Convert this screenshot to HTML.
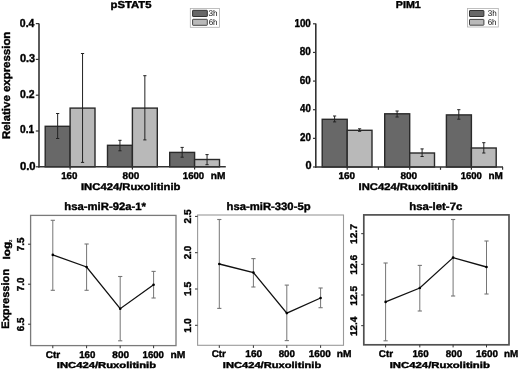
<!DOCTYPE html>
<html><head><meta charset="utf-8"><title>figure</title><style>
html,body{margin:0;padding:0;background:#fff;}
svg{will-change:transform;display:block;font-family:"Liberation Sans", sans-serif;text-rendering:geometricPrecision;}
</style></head><body>
<svg width="520" height="370" viewBox="0 0 520 370">
<rect width="520" height="370" fill="#fff"/>
<rect x="45.20" y="126.30" width="24.90" height="40.50" fill="#686868" stroke="#2a2a2a" stroke-width="1.4" />
<rect x="70.10" y="108.10" width="24.90" height="58.70" fill="#b9b9b9" stroke="#2a2a2a" stroke-width="1.4" />
<line x1="57.65" y1="113.50" x2="57.65" y2="138.50" stroke="#222" stroke-width="1.0" />
<line x1="56.05" y1="113.50" x2="59.25" y2="113.50" stroke="#222" stroke-width="1.0" />
<line x1="56.05" y1="138.50" x2="59.25" y2="138.50" stroke="#222" stroke-width="1.0" />
<line x1="82.55" y1="53.50" x2="82.55" y2="162.40" stroke="#222" stroke-width="1.0" />
<line x1="80.95" y1="53.50" x2="84.15" y2="53.50" stroke="#222" stroke-width="1.0" />
<line x1="80.95" y1="162.40" x2="84.15" y2="162.40" stroke="#222" stroke-width="1.0" />
<rect x="107.50" y="145.30" width="24.90" height="21.50" fill="#686868" stroke="#2a2a2a" stroke-width="1.4" />
<rect x="132.40" y="108.10" width="24.90" height="58.70" fill="#b9b9b9" stroke="#2a2a2a" stroke-width="1.4" />
<line x1="119.95" y1="140.30" x2="119.95" y2="150.80" stroke="#222" stroke-width="1.0" />
<line x1="118.35" y1="140.30" x2="121.55" y2="140.30" stroke="#222" stroke-width="1.0" />
<line x1="118.35" y1="150.80" x2="121.55" y2="150.80" stroke="#222" stroke-width="1.0" />
<line x1="144.85" y1="75.70" x2="144.85" y2="139.90" stroke="#222" stroke-width="1.0" />
<line x1="143.25" y1="75.70" x2="146.45" y2="75.70" stroke="#222" stroke-width="1.0" />
<line x1="143.25" y1="139.90" x2="146.45" y2="139.90" stroke="#222" stroke-width="1.0" />
<rect x="169.70" y="152.40" width="24.90" height="14.40" fill="#686868" stroke="#2a2a2a" stroke-width="1.4" />
<rect x="194.60" y="159.50" width="24.90" height="7.30" fill="#b9b9b9" stroke="#2a2a2a" stroke-width="1.4" />
<line x1="182.15" y1="147.40" x2="182.15" y2="157.20" stroke="#222" stroke-width="1.0" />
<line x1="180.55" y1="147.40" x2="183.75" y2="147.40" stroke="#222" stroke-width="1.0" />
<line x1="180.55" y1="157.20" x2="183.75" y2="157.20" stroke="#222" stroke-width="1.0" />
<line x1="207.05" y1="154.60" x2="207.05" y2="164.70" stroke="#222" stroke-width="1.0" />
<line x1="205.45" y1="154.60" x2="208.65" y2="154.60" stroke="#222" stroke-width="1.0" />
<line x1="205.45" y1="164.70" x2="208.65" y2="164.70" stroke="#222" stroke-width="1.0" />
<line x1="39.00" y1="23.40" x2="39.00" y2="167.50" stroke="#333" stroke-width="1.6" />
<line x1="38.20" y1="166.80" x2="225.80" y2="166.80" stroke="#333" stroke-width="1.6" />
<line x1="35.80" y1="166.80" x2="39.00" y2="166.80" stroke="#333" stroke-width="1.2" />
<line x1="35.80" y1="131.00" x2="39.00" y2="131.00" stroke="#333" stroke-width="1.2" />
<line x1="35.80" y1="95.20" x2="39.00" y2="95.20" stroke="#333" stroke-width="1.2" />
<line x1="35.80" y1="59.40" x2="39.00" y2="59.40" stroke="#333" stroke-width="1.2" />
<line x1="35.80" y1="23.60" x2="39.00" y2="23.60" stroke="#333" stroke-width="1.2" />
<line x1="70.10" y1="166.80" x2="70.10" y2="169.60" stroke="#333" stroke-width="1.2" />
<line x1="132.40" y1="166.80" x2="132.40" y2="169.60" stroke="#333" stroke-width="1.2" />
<line x1="194.60" y1="166.80" x2="194.60" y2="169.60" stroke="#333" stroke-width="1.2" />
<rect x="190.30" y="8.50" width="29.20" height="18.80" fill="#fff" stroke="#b0b0b0" stroke-width="0.8" />
<rect x="192.60" y="10.30" width="14.70" height="6.20" fill="#686868" stroke="#333" stroke-width="1.0" rx="0.5"/>
<rect x="192.60" y="19.30" width="14.70" height="6.00" fill="#b9b9b9" stroke="#444" stroke-width="1.0" rx="0.5"/>
<rect x="322.20" y="119.30" width="25.00" height="47.70" fill="#686868" stroke="#2a2a2a" stroke-width="1.4" />
<rect x="347.20" y="130.30" width="24.80" height="36.70" fill="#b9b9b9" stroke="#2a2a2a" stroke-width="1.4" />
<line x1="334.60" y1="116.00" x2="334.60" y2="121.90" stroke="#222" stroke-width="1.0" />
<line x1="333.00" y1="116.00" x2="336.20" y2="116.00" stroke="#222" stroke-width="1.0" />
<line x1="333.00" y1="121.90" x2="336.20" y2="121.90" stroke="#222" stroke-width="1.0" />
<line x1="359.60" y1="128.80" x2="359.60" y2="131.30" stroke="#222" stroke-width="1.0" />
<line x1="358.00" y1="128.80" x2="361.20" y2="128.80" stroke="#222" stroke-width="1.0" />
<line x1="358.00" y1="131.30" x2="361.20" y2="131.30" stroke="#222" stroke-width="1.0" />
<rect x="384.70" y="113.80" width="25.00" height="53.20" fill="#686868" stroke="#2a2a2a" stroke-width="1.4" />
<rect x="409.70" y="153.00" width="24.80" height="14.00" fill="#b9b9b9" stroke="#2a2a2a" stroke-width="1.4" />
<line x1="397.10" y1="111.00" x2="397.10" y2="117.00" stroke="#222" stroke-width="1.0" />
<line x1="395.50" y1="111.00" x2="398.70" y2="111.00" stroke="#222" stroke-width="1.0" />
<line x1="395.50" y1="117.00" x2="398.70" y2="117.00" stroke="#222" stroke-width="1.0" />
<line x1="422.10" y1="148.90" x2="422.10" y2="156.50" stroke="#222" stroke-width="1.0" />
<line x1="420.50" y1="148.90" x2="423.70" y2="148.90" stroke="#222" stroke-width="1.0" />
<line x1="420.50" y1="156.50" x2="423.70" y2="156.50" stroke="#222" stroke-width="1.0" />
<rect x="446.40" y="114.90" width="25.00" height="52.10" fill="#686868" stroke="#2a2a2a" stroke-width="1.4" />
<rect x="471.40" y="148.00" width="24.80" height="19.00" fill="#b9b9b9" stroke="#2a2a2a" stroke-width="1.4" />
<line x1="458.80" y1="109.70" x2="458.80" y2="119.20" stroke="#222" stroke-width="1.0" />
<line x1="457.20" y1="109.70" x2="460.40" y2="109.70" stroke="#222" stroke-width="1.0" />
<line x1="457.20" y1="119.20" x2="460.40" y2="119.20" stroke="#222" stroke-width="1.0" />
<line x1="483.80" y1="142.70" x2="483.80" y2="153.00" stroke="#222" stroke-width="1.0" />
<line x1="482.20" y1="142.70" x2="485.40" y2="142.70" stroke="#222" stroke-width="1.0" />
<line x1="482.20" y1="153.00" x2="485.40" y2="153.00" stroke="#222" stroke-width="1.0" />
<line x1="315.80" y1="23.40" x2="315.80" y2="167.70" stroke="#333" stroke-width="1.6" />
<line x1="315.00" y1="167.00" x2="503.00" y2="167.00" stroke="#333" stroke-width="1.6" />
<line x1="313.00" y1="167.00" x2="315.80" y2="167.00" stroke="#333" stroke-width="1.2" />
<line x1="313.00" y1="138.36" x2="315.80" y2="138.36" stroke="#333" stroke-width="1.2" />
<line x1="313.00" y1="109.72" x2="315.80" y2="109.72" stroke="#333" stroke-width="1.2" />
<line x1="313.00" y1="81.08" x2="315.80" y2="81.08" stroke="#333" stroke-width="1.2" />
<line x1="313.00" y1="52.44" x2="315.80" y2="52.44" stroke="#333" stroke-width="1.2" />
<line x1="313.00" y1="23.80" x2="315.80" y2="23.80" stroke="#333" stroke-width="1.2" />
<line x1="347.20" y1="167.00" x2="347.20" y2="169.80" stroke="#333" stroke-width="1.2" />
<line x1="378.40" y1="167.00" x2="378.40" y2="169.80" stroke="#333" stroke-width="1.2" />
<line x1="409.70" y1="167.00" x2="409.70" y2="169.80" stroke="#333" stroke-width="1.2" />
<line x1="440.50" y1="167.00" x2="440.50" y2="169.80" stroke="#333" stroke-width="1.2" />
<line x1="471.40" y1="167.00" x2="471.40" y2="169.80" stroke="#333" stroke-width="1.2" />
<line x1="502.60" y1="167.00" x2="502.60" y2="169.80" stroke="#333" stroke-width="1.2" />
<rect x="467.50" y="8.50" width="30.80" height="18.50" fill="#fff" stroke="#b0b0b0" stroke-width="0.8" />
<rect x="469.50" y="10.50" width="14.40" height="6.00" fill="#686868" stroke="#333" stroke-width="1.0" rx="0.5"/>
<rect x="469.50" y="19.40" width="14.40" height="5.80" fill="#b9b9b9" stroke="#444" stroke-width="1.0" rx="0.5"/>
<rect x="30.60" y="215.40" width="145.40" height="130.20" fill="none" stroke="#7a7a7a" stroke-width="1.3" />
<line x1="28.00" y1="324.20" x2="30.60" y2="324.20" stroke="#333" stroke-width="1.0" />
<line x1="28.00" y1="284.20" x2="30.60" y2="284.20" stroke="#333" stroke-width="1.0" />
<line x1="28.00" y1="244.20" x2="30.60" y2="244.20" stroke="#333" stroke-width="1.0" />
<line x1="52.80" y1="345.60" x2="52.80" y2="348.20" stroke="#333" stroke-width="1.0" />
<line x1="86.60" y1="345.60" x2="86.60" y2="348.20" stroke="#333" stroke-width="1.0" />
<line x1="120.20" y1="345.60" x2="120.20" y2="348.20" stroke="#333" stroke-width="1.0" />
<line x1="153.60" y1="345.60" x2="153.60" y2="348.20" stroke="#333" stroke-width="1.0" />
<line x1="52.80" y1="220.30" x2="52.80" y2="290.30" stroke="#767676" stroke-width="1.0" />
<line x1="50.70" y1="220.30" x2="54.90" y2="220.30" stroke="#767676" stroke-width="1.1" />
<line x1="50.70" y1="290.30" x2="54.90" y2="290.30" stroke="#767676" stroke-width="1.1" />
<line x1="86.60" y1="244.00" x2="86.60" y2="290.30" stroke="#767676" stroke-width="1.0" />
<line x1="84.50" y1="244.00" x2="88.70" y2="244.00" stroke="#767676" stroke-width="1.1" />
<line x1="84.50" y1="290.30" x2="88.70" y2="290.30" stroke="#767676" stroke-width="1.1" />
<line x1="120.20" y1="276.50" x2="120.20" y2="340.80" stroke="#767676" stroke-width="1.0" />
<line x1="118.10" y1="276.50" x2="122.30" y2="276.50" stroke="#767676" stroke-width="1.1" />
<line x1="118.10" y1="340.80" x2="122.30" y2="340.80" stroke="#767676" stroke-width="1.1" />
<line x1="153.60" y1="271.40" x2="153.60" y2="298.00" stroke="#767676" stroke-width="1.0" />
<line x1="151.50" y1="271.40" x2="155.70" y2="271.40" stroke="#767676" stroke-width="1.1" />
<line x1="151.50" y1="298.00" x2="155.70" y2="298.00" stroke="#767676" stroke-width="1.1" />
<path d="M52.80,254.90 L86.60,267.00 L120.20,308.70 L153.60,284.80" fill="none" stroke="#111" stroke-width="1.3"/>
<circle cx="52.80" cy="254.90" r="1.3" fill="#000"/>
<circle cx="86.60" cy="267.00" r="1.3" fill="#000"/>
<circle cx="120.20" cy="308.70" r="1.3" fill="#000"/>
<circle cx="153.60" cy="284.80" r="1.3" fill="#000"/>
<rect x="197.60" y="215.00" width="145.90" height="130.30" fill="none" stroke="#9a9a9a" stroke-width="1.1" />
<line x1="195.00" y1="325.30" x2="197.60" y2="325.30" stroke="#333" stroke-width="1.0" />
<line x1="195.00" y1="289.00" x2="197.60" y2="289.00" stroke="#333" stroke-width="1.0" />
<line x1="195.00" y1="252.70" x2="197.60" y2="252.70" stroke="#333" stroke-width="1.0" />
<line x1="195.00" y1="216.40" x2="197.60" y2="216.40" stroke="#333" stroke-width="1.0" />
<line x1="219.30" y1="345.30" x2="219.30" y2="347.90" stroke="#333" stroke-width="1.0" />
<line x1="253.40" y1="345.30" x2="253.40" y2="347.90" stroke="#333" stroke-width="1.0" />
<line x1="286.80" y1="345.30" x2="286.80" y2="347.90" stroke="#333" stroke-width="1.0" />
<line x1="320.60" y1="345.30" x2="320.60" y2="347.90" stroke="#333" stroke-width="1.0" />
<line x1="219.30" y1="219.50" x2="219.30" y2="308.40" stroke="#767676" stroke-width="1.0" />
<line x1="217.20" y1="219.50" x2="221.40" y2="219.50" stroke="#767676" stroke-width="1.1" />
<line x1="217.20" y1="308.40" x2="221.40" y2="308.40" stroke="#767676" stroke-width="1.1" />
<line x1="253.40" y1="258.60" x2="253.40" y2="287.00" stroke="#767676" stroke-width="1.0" />
<line x1="251.30" y1="258.60" x2="255.50" y2="258.60" stroke="#767676" stroke-width="1.1" />
<line x1="251.30" y1="287.00" x2="255.50" y2="287.00" stroke="#767676" stroke-width="1.1" />
<line x1="286.80" y1="285.10" x2="286.80" y2="340.60" stroke="#767676" stroke-width="1.0" />
<line x1="284.70" y1="285.10" x2="288.90" y2="285.10" stroke="#767676" stroke-width="1.1" />
<line x1="284.70" y1="340.60" x2="288.90" y2="340.60" stroke="#767676" stroke-width="1.1" />
<line x1="320.60" y1="288.00" x2="320.60" y2="307.70" stroke="#767676" stroke-width="1.0" />
<line x1="318.50" y1="288.00" x2="322.70" y2="288.00" stroke="#767676" stroke-width="1.1" />
<line x1="318.50" y1="307.70" x2="322.70" y2="307.70" stroke="#767676" stroke-width="1.1" />
<path d="M219.30,264.00 L253.40,272.60 L286.80,313.10 L320.60,298.00" fill="none" stroke="#111" stroke-width="1.3"/>
<circle cx="219.30" cy="264.00" r="1.3" fill="#000"/>
<circle cx="253.40" cy="272.60" r="1.3" fill="#000"/>
<circle cx="286.80" cy="313.10" r="1.3" fill="#000"/>
<circle cx="320.60" cy="298.00" r="1.3" fill="#000"/>
<rect x="363.80" y="214.90" width="145.20" height="129.90" fill="none" stroke="#505050" stroke-width="1.7" />
<line x1="361.20" y1="325.67" x2="363.80" y2="325.67" stroke="#333" stroke-width="1.0" />
<line x1="361.20" y1="295.00" x2="363.80" y2="295.00" stroke="#333" stroke-width="1.0" />
<line x1="361.20" y1="264.33" x2="363.80" y2="264.33" stroke="#333" stroke-width="1.0" />
<line x1="361.20" y1="233.66" x2="363.80" y2="233.66" stroke="#333" stroke-width="1.0" />
<line x1="385.60" y1="344.80" x2="385.60" y2="347.40" stroke="#333" stroke-width="1.0" />
<line x1="419.80" y1="344.80" x2="419.80" y2="347.40" stroke="#333" stroke-width="1.0" />
<line x1="453.10" y1="344.80" x2="453.10" y2="347.40" stroke="#333" stroke-width="1.0" />
<line x1="486.50" y1="344.80" x2="486.50" y2="347.40" stroke="#333" stroke-width="1.0" />
<line x1="385.60" y1="263.00" x2="385.60" y2="340.80" stroke="#767676" stroke-width="1.0" />
<line x1="383.50" y1="263.00" x2="387.70" y2="263.00" stroke="#767676" stroke-width="1.1" />
<line x1="383.50" y1="340.80" x2="387.70" y2="340.80" stroke="#767676" stroke-width="1.1" />
<line x1="419.80" y1="265.40" x2="419.80" y2="311.00" stroke="#767676" stroke-width="1.0" />
<line x1="417.70" y1="265.40" x2="421.90" y2="265.40" stroke="#767676" stroke-width="1.1" />
<line x1="417.70" y1="311.00" x2="421.90" y2="311.00" stroke="#767676" stroke-width="1.1" />
<line x1="453.10" y1="219.50" x2="453.10" y2="296.00" stroke="#767676" stroke-width="1.0" />
<line x1="451.00" y1="219.50" x2="455.20" y2="219.50" stroke="#767676" stroke-width="1.1" />
<line x1="451.00" y1="296.00" x2="455.20" y2="296.00" stroke="#767676" stroke-width="1.1" />
<line x1="486.50" y1="241.00" x2="486.50" y2="294.00" stroke="#767676" stroke-width="1.0" />
<line x1="484.40" y1="241.00" x2="488.60" y2="241.00" stroke="#767676" stroke-width="1.1" />
<line x1="484.40" y1="294.00" x2="488.60" y2="294.00" stroke="#767676" stroke-width="1.1" />
<path d="M385.60,301.90 L419.80,288.00 L453.10,257.60 L486.50,267.00" fill="none" stroke="#111" stroke-width="1.3"/>
<circle cx="385.60" cy="301.90" r="1.3" fill="#000"/>
<circle cx="419.80" cy="288.00" r="1.3" fill="#000"/>
<circle cx="453.10" cy="257.60" r="1.3" fill="#000"/>
<circle cx="486.50" cy="267.00" r="1.3" fill="#000"/>
<g font-weight="bold" fill="#000" stroke="#000" stroke-width="0.4">
<text x="110.51" y="8.00" font-size="10.04" textLength="40.95" lengthAdjust="spacingAndGlyphs">pSTAT5</text>
<text x="19.87" y="27.00" font-size="11.62" textLength="14.56" lengthAdjust="spacingAndGlyphs">0.4</text>
<text x="19.93" y="62.00" font-size="11.62" textLength="15.26" lengthAdjust="spacingAndGlyphs">0.3</text>
<text x="20.08" y="98.00" font-size="11.62" textLength="14.54" lengthAdjust="spacingAndGlyphs">0.2</text>
<text x="20.12" y="133.00" font-size="11.62" textLength="14.19" lengthAdjust="spacingAndGlyphs">0.1</text>
<text x="19.92" y="170.00" font-size="11.62" textLength="15.62" lengthAdjust="spacingAndGlyphs">0.0</text>
<text x="61.16" y="179.00" font-size="9.85" textLength="16.30" lengthAdjust="spacingAndGlyphs">160</text>
<text x="122.61" y="179.00" font-size="9.85" textLength="16.62" lengthAdjust="spacingAndGlyphs">800</text>
<text x="182.87" y="179.00" font-size="9.85" textLength="21.30" lengthAdjust="spacingAndGlyphs">1600</text>
<text x="210.89" y="179.00" font-size="9.85" textLength="14.59" lengthAdjust="spacingAndGlyphs">nM</text>
<text x="80.99" y="190.00" font-size="9.69" textLength="99.51" lengthAdjust="spacingAndGlyphs">INC424/Ruxolitinib</text>
<text x="10.06" y="139.11" font-size="11.15" textLength="107.49" lengthAdjust="spacingAndGlyphs" transform="rotate(-90 10.06 139.11)">Relative expression</text>
<text x="208.54" y="16.00" font-size="8.32" font-weight="normal" stroke="none" fill="#111" textLength="9.11" lengthAdjust="spacingAndGlyphs">3h</text>
<text x="208.63" y="25.00" font-size="8.32" font-weight="normal" stroke="none" fill="#111" textLength="8.90" lengthAdjust="spacingAndGlyphs">6h</text>
<text x="395.82" y="8.00" font-size="10.04" textLength="25.00" lengthAdjust="spacingAndGlyphs">PIM1</text>
<text x="294.41" y="27.00" font-size="11.53" textLength="16.43" lengthAdjust="spacingAndGlyphs">100</text>
<text x="299.79" y="55.00" font-size="11.53" textLength="11.12" lengthAdjust="spacingAndGlyphs">80</text>
<text x="299.87" y="84.00" font-size="11.53" textLength="10.98" lengthAdjust="spacingAndGlyphs">60</text>
<text x="300.02" y="112.00" font-size="11.53" textLength="10.75" lengthAdjust="spacingAndGlyphs">40</text>
<text x="299.97" y="141.00" font-size="11.53" textLength="10.94" lengthAdjust="spacingAndGlyphs">20</text>
<text x="305.45" y="169.00" font-size="11.53" textLength="6.07" lengthAdjust="spacingAndGlyphs">0</text>
<text x="338.50" y="179.00" font-size="9.85" textLength="16.57" lengthAdjust="spacingAndGlyphs">160</text>
<text x="400.41" y="179.00" font-size="9.85" textLength="16.80" lengthAdjust="spacingAndGlyphs">800</text>
<text x="460.69" y="179.00" font-size="9.85" textLength="21.23" lengthAdjust="spacingAndGlyphs">1600</text>
<text x="488.47" y="179.00" font-size="9.85" textLength="14.38" lengthAdjust="spacingAndGlyphs">nM</text>
<text x="358.60" y="190.00" font-size="9.69" textLength="99.19" lengthAdjust="spacingAndGlyphs">INC424/Ruxolitinib</text>
<text x="487.66" y="16.00" font-size="8.32" font-weight="normal" stroke="none" fill="#111" textLength="8.98" lengthAdjust="spacingAndGlyphs">3h</text>
<text x="487.63" y="25.00" font-size="8.32" font-weight="normal" stroke="none" fill="#111" textLength="8.91" lengthAdjust="spacingAndGlyphs">6h</text>
<text x="64.30" y="210.00" font-size="10.73" textLength="81.72" lengthAdjust="spacingAndGlyphs">hsa-miR-92a-1*</text>
<text x="24.30" y="251.23" font-size="10.05" textLength="13.63" lengthAdjust="spacingAndGlyphs" transform="rotate(-90 24.30 251.23)">7.5</text>
<text x="24.27" y="291.23" font-size="10.05" textLength="13.65" lengthAdjust="spacingAndGlyphs" transform="rotate(-90 24.27 291.23)">7.0</text>
<text x="24.32" y="331.18" font-size="10.05" textLength="13.48" lengthAdjust="spacingAndGlyphs" transform="rotate(-90 24.32 331.18)">6.5</text>
<text x="45.75" y="358.00" font-size="9.74" textLength="14.44" lengthAdjust="spacingAndGlyphs">Ctr</text>
<text x="79.18" y="358.00" font-size="9.74" textLength="16.19" lengthAdjust="spacingAndGlyphs">160</text>
<text x="112.35" y="358.00" font-size="9.74" textLength="16.66" lengthAdjust="spacingAndGlyphs">800</text>
<text x="142.57" y="358.00" font-size="9.74" textLength="21.39" lengthAdjust="spacingAndGlyphs">1600</text>
<text x="170.56" y="358.00" font-size="9.74" textLength="14.86" lengthAdjust="spacingAndGlyphs">nM</text>
<text x="56.84" y="368.00" font-size="8.58" textLength="99.29" lengthAdjust="spacingAndGlyphs">INC424/Ruxolitinib</text>
<text x="9.49" y="328.75" font-size="10.74" textLength="59.93" lengthAdjust="spacingAndGlyphs" transform="rotate(-90 9.49 328.75)">Expression</text>
<text x="10.28" y="259.60" font-size="9.74" textLength="17.74" lengthAdjust="spacingAndGlyphs" transform="rotate(-90 10.28 259.60)">log</text>
<text x="11.90" y="242.00" font-size="4.00" stroke-width="0.15" textLength="2.30" lengthAdjust="spacingAndGlyphs" transform="rotate(-90 11.90 242.00)">2</text>
<text x="226.56" y="210.00" font-size="10.73" textLength="84.02" lengthAdjust="spacingAndGlyphs">hsa-miR-330-5p</text>
<text x="191.03" y="223.41" font-size="9.97" textLength="14.04" lengthAdjust="spacingAndGlyphs" transform="rotate(-90 191.03 223.41)">2.5</text>
<text x="191.01" y="259.32" font-size="9.97" textLength="13.61" lengthAdjust="spacingAndGlyphs" transform="rotate(-90 191.01 259.32)">2.0</text>
<text x="191.43" y="296.10" font-size="9.97" textLength="14.26" lengthAdjust="spacingAndGlyphs" transform="rotate(-90 191.43 296.10)">1.5</text>
<text x="190.99" y="332.63" font-size="9.97" textLength="14.48" lengthAdjust="spacingAndGlyphs" transform="rotate(-90 190.99 332.63)">1.0</text>
<text x="211.74" y="357.00" font-size="9.74" textLength="14.06" lengthAdjust="spacingAndGlyphs">Ctr</text>
<text x="245.32" y="357.00" font-size="9.74" textLength="16.90" lengthAdjust="spacingAndGlyphs">160</text>
<text x="278.69" y="357.00" font-size="9.74" textLength="16.27" lengthAdjust="spacingAndGlyphs">800</text>
<text x="308.66" y="357.00" font-size="9.74" textLength="22.09" lengthAdjust="spacingAndGlyphs">1600</text>
<text x="336.74" y="357.00" font-size="9.74" textLength="14.74" lengthAdjust="spacingAndGlyphs">nM</text>
<text x="222.86" y="368.00" font-size="8.58" textLength="98.36" lengthAdjust="spacingAndGlyphs">INC424/Ruxolitinib</text>
<text x="409.20" y="210.00" font-size="10.73" textLength="53.12" lengthAdjust="spacingAndGlyphs">hsa-let-7c</text>
<text x="357.00" y="244.02" font-size="9.74" textLength="19.86" lengthAdjust="spacingAndGlyphs" transform="rotate(-90 357.00 244.02)">12.7</text>
<text x="356.98" y="274.72" font-size="9.74" textLength="19.92" lengthAdjust="spacingAndGlyphs" transform="rotate(-90 356.98 274.72)">12.6</text>
<text x="357.37" y="305.71" font-size="9.74" textLength="19.76" lengthAdjust="spacingAndGlyphs" transform="rotate(-90 357.37 305.71)">12.5</text>
<text x="357.03" y="335.97" font-size="9.74" textLength="19.29" lengthAdjust="spacingAndGlyphs" transform="rotate(-90 357.03 335.97)">12.4</text>
<text x="378.82" y="357.00" font-size="9.74" textLength="14.16" lengthAdjust="spacingAndGlyphs">Ctr</text>
<text x="412.44" y="357.00" font-size="9.74" textLength="16.30" lengthAdjust="spacingAndGlyphs">160</text>
<text x="445.81" y="357.00" font-size="9.74" textLength="16.34" lengthAdjust="spacingAndGlyphs">800</text>
<text x="476.00" y="357.00" font-size="9.74" textLength="21.86" lengthAdjust="spacingAndGlyphs">1600</text>
<text x="504.02" y="357.00" font-size="9.74" textLength="14.29" lengthAdjust="spacingAndGlyphs">nM</text>
<text x="389.70" y="368.00" font-size="8.58" textLength="100.18" lengthAdjust="spacingAndGlyphs">INC424/Ruxolitinib</text>
</g>
</svg>
</body></html>
